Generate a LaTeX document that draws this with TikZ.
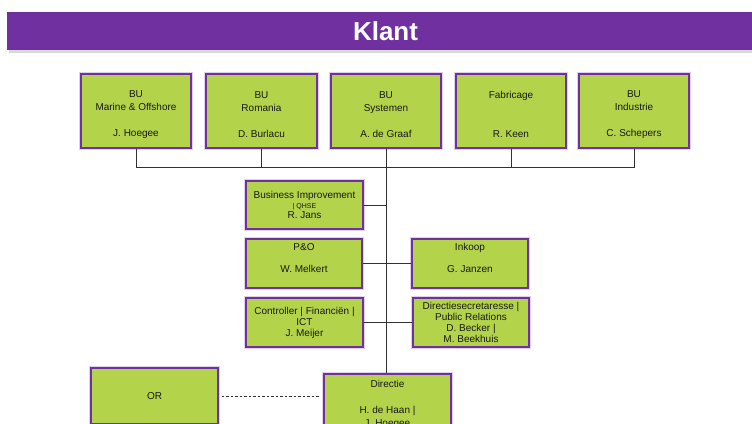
\documentclass[tikz,border=0pt]{standalone}
\usepackage{fontspec}
\setmainfont{Liberation Sans}
\usetikzlibrary{positioning}
\definecolor{klpurple}{RGB}{112,48,160}
\definecolor{klgreen}{RGB}{178,211,74}
\definecolor{kltext}{RGB}{25,25,25}
\definecolor{klline}{RGB}{50,50,50}
\newcommand\klstrut{\rule{0pt}{14.5pt}}
\begin{document}
\begin{tikzpicture}[x=1pt,y=-1pt,
  orgbox/.style={draw=klpurple, line width=1.2pt, fill=klgreen, inner sep=0pt,
     text=kltext, align=center, font=\fontsize{10}{13}\selectfont,
     preaction={draw=klpurple!22, line width=4.5pt}},
  topbox/.style={orgbox, minimum width=110pt, minimum height=74pt},
  midbox/.style={orgbox, minimum width=116pt, minimum height=49pt, font=\fontsize{10}{11}\selectfont},
  conn/.style={draw=klline, line width=0.8pt},
  dconn/.style={draw=klline, line width=0.8pt, dash pattern=on 2.5pt off 2pt}
]
\useasboundingbox (0,0) rectangle (752,423);
% banner
\fill[black!15] (9,15) rectangle (752,53);
\fill[klpurple] (7,12) rectangle (752,50);
\node[inner sep=0pt, text=white, font=\fontsize{26}{28}\bfseries\selectfont] (klant) at (385.5,31) {Klant};
% top row
\node[topbox] (bu1) at (136,111) {\klstrut BU\\Marine \& Offshore\\~\\J. Hoegee};
\node[topbox, minimum width=111pt] (bu2) at (261.5,111) {\klstrut BU\\Romania\\~\\D. Burlacu};
\node[topbox] (bu3) at (386,111) {\klstrut BU\\Systemen\\~\\A.\ de Graaf};
\node[topbox] (fab) at (511,111) {\klstrut Fabricage\\~\\~\\R. Keen};
\node[topbox] (bu5) at (634,111) {\klstrut BU\\Industrie\\~\\C. Schepers};
% middle
\node[midbox, minimum width=117pt, minimum height=48pt] (bi) at (304.5,205)
  {Business Improvement\\[-1pt]{\fontsize{7}{8}\selectfont | QHSE}\\[-1pt]R. Jans};
\node[midbox] (po) at (304,263.5) {P\&O\\~\\W. Melkert\\~};
\node[midbox] (ink) at (470,263.5) {Inkoop\\~\\G. Janzen\\~};
\node[midbox, minimum width=117pt] (ctrl) at (304.5,322.5) {Controller | Financiën |\\ICT\\J. Meijer};
\node[midbox] (dsec) at (471,322.5) {Directiesecretaresse |\\Public Relations\\D. Becker |\\M. Beekhuis};
% bottom
\node[orgbox, minimum width=127pt, minimum height=60pt] (dir) at (387.5,404)
  {Directie\\~\\H. de Haan |\\J. Hoegee};
\node[orgbox, minimum width=127pt, minimum height=56pt] (or) at (154.5,396) {OR};
% connectors
\coordinate (bus) at (386,167);
\draw[conn] (bu1.south) -- (bu1.south |- bus) -| (bu5.south);
\draw[conn] (bu2.south) -- (bu2.south |- bus);
\draw[conn] (fab.south) -- (fab.south |- bus);
\draw[conn] (bu3.south) -- (bu3.south |- dir.north);
\draw[conn] (bi.east) -- (bi.east -| bu3.south);
\draw[conn] (po.east) -- (ink.west);
\draw[conn] (ctrl.east) -- (dsec.west);
\draw[dconn] ([xshift=3pt]or.east) -- ([xshift=-3pt]dir.west |- or.east);
\end{tikzpicture}
\end{document}
